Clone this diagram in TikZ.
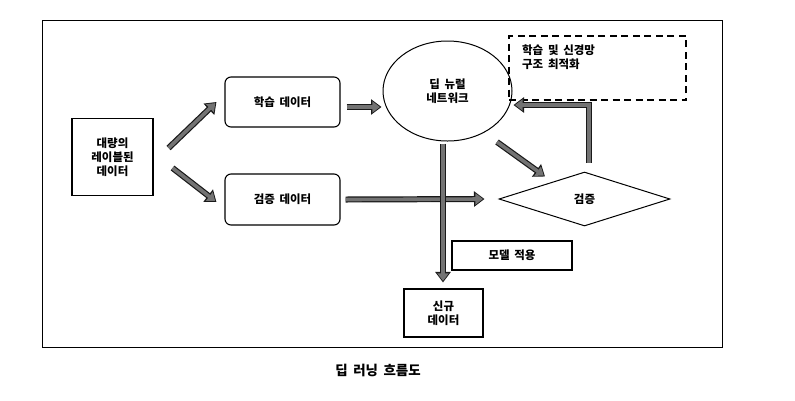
\documentclass[tikz,border=0pt]{standalone}
\usepackage{fontspec}
\setmainfont{Noto Sans CJK KR}[WordSpace=1.8]
\usetikzlibrary{shapes.geometric,arrows.meta,calc}
\tikzset{
  every node/.style={font=\fontsize{11.5}{14}\selectfont\bfseries},
  plainbox/.style={draw=black, line width=1.1bp, align=center, inner sep=0pt},
  roundbox/.style={plainbox, rounded corners=6bp},
  barrow/.style={draw=black!55, line width=3.6bp, shorten >=1.6bp, -{Triangle[length=7.5bp,width=11bp]},
    preaction={draw=black!90, line width=6bp, shorten >=0bp, -{Triangle[length=10.5bp,width=15bp]}}},
}
\begin{document}
\begin{tikzpicture}[x=1bp,y=-1bp]
\useasboundingbox (0,0) rectangle (795,400);
\node[draw=black, line width=1bp, minimum width=679bp, minimum height=327bp, inner sep=0pt] (frame) at (382.5,183.5) {};
\node[plainbox, minimum width=81bp, minimum height=77bp] (big) at (112.5,157) {대량의\\레이블된\\데이터};
\node[roundbox, minimum width=115bp, minimum height=50bp] (train) at (282.5,102) {학습 데이터};
\node[roundbox, minimum width=115bp, minimum height=51bp] (val) at (282.5,199.5) {검증 데이터};
\node[draw=black, line width=1bp, ellipse, minimum width=129bp, minimum height=100bp, inner sep=0pt, align=center] (dnn) at (447.5,91) {딥 뉴럴\\네트워크};
\node[draw=black, line width=1.2bp, dash pattern=on 7bp off 4.5bp, minimum width=177bp, minimum height=64bp, inner sep=0pt] (opt) at (597.5,68) {};
\node[anchor=north west, align=left, inner sep=0pt] (optlabel) at (522,45) {학습 및 신경망\\구조 최적화};
\node[draw=black, line width=1bp, diamond, aspect=3.2, minimum width=171bp, minimum height=54bp, inner sep=0pt] (check) at (584.5,199) {검증};
\node[plainbox, minimum width=120bp, minimum height=29bp] (apply) at (512,255.5) {모델 적용};
\node[plainbox, minimum width=79bp, minimum height=48bp] (new) at (443.5,313) {신규\\데이터};
\node[font=\fontsize{13.5}{16}\selectfont\bfseries] (caption) at (378,370) {딥 러닝 흐름도};

\draw[barrow] ([shift={(15,-9)}]big.east) -- ([shift={(-8,0)}]train.west);
\draw[barrow] ([shift={(19,11)}]big.east) -- ([shift={(-8,2.5)}]val.west);
\draw[barrow] ([shift={(6,5)}]train.east) -- ([shift={(-1,16)}]dnn.west);
\draw[barrow] ([shift={(5,0)}]val.east) -- ([shift={(-14,0)}]check.west);
\draw[barrow] ([shift={(-4.5,2)}]dnn.south) -- ([shift={(-0.5,-6)}]new.north);
\draw[barrow] ([shift={(49.5,51)}]dnn.center) -- ([shift={(-39.5,5)}]check.north);
\draw[barrow] ([shift={(4.5,-9)}]check.north) |- ([shift={(1,14)}]dnn.east);
\end{tikzpicture}
\end{document}
